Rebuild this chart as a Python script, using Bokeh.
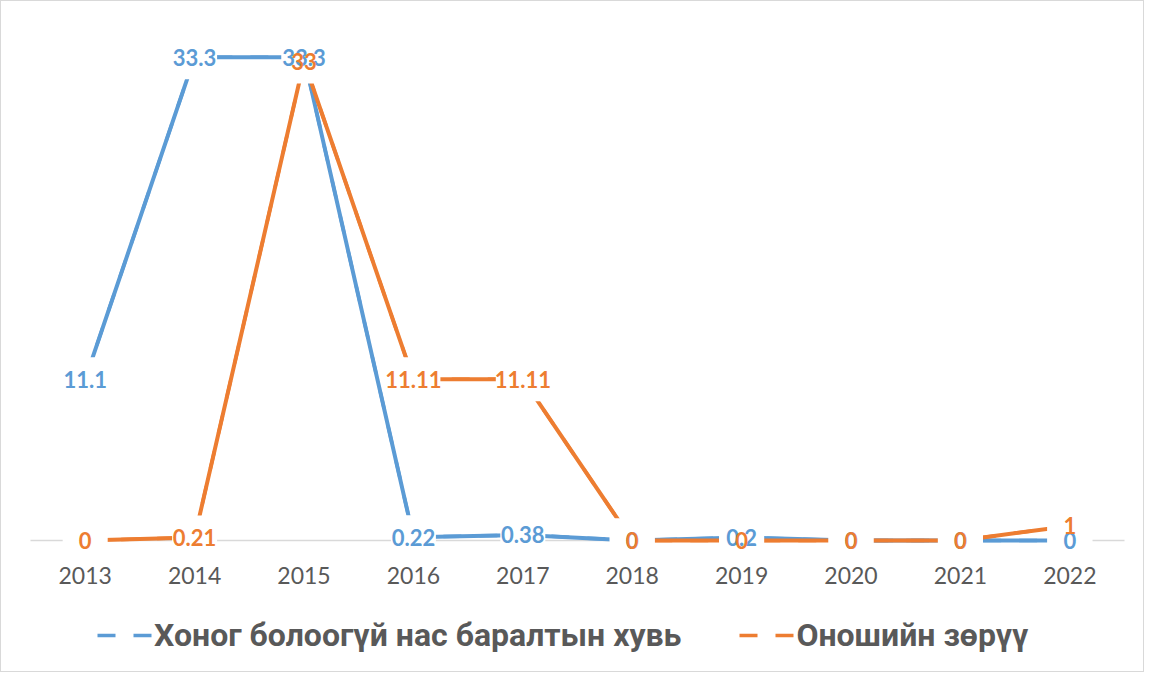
from bokeh.plotting import figure
from bokeh.models import (ColumnDataSource, Range1d, Legend, LegendItem, FixedTicker)
from bokeh.embed import file_html
from bokeh.resources import INLINE
from bokeh.core.properties import value

# ---- data ----
years = ["2013", "2014", "2015", "2016", "2017", "2018", "2019", "2020", "2021", "2022"]
mortality = [11.1, 33.3, 33.3, 0.22, 0.38, 0, 0.2, 0, 0, 0]
mismatch = [0, 0.21, 33, 11.11, 11.11, 0, 0, 0, 0, 1]
series_names = ["Хоног болоогүй нас баралтын хувь", "Оношийн зөрүү"]

BLUE = "#5B9BD5"
ORANGE = "#ED7D31"
GRAY_TEXT = "#595959"
AXIS_GRAY = "#d9d9d9"

xpos = list(range(len(years)))


def fmt(v):
    return f"{v:g}"


def box_w(s):
    return max(45, sum(11 if c.isdigit() else 6 for c in s) + 4)


p = figure(
    width=1144, height=672,
    x_range=Range1d(-0.765, 9.509),
    y_range=Range1d(-9.17, 35.0),
    output_backend="svg", toolbar_location=None,
    min_border_left=0, min_border_right=20, min_border_top=31, min_border_bottom=0,
    styles={"border": "1px solid #d9d9d9"},
)
p.outline_line_color = None
p.grid.visible = False
p.yaxis.visible = False

xa = p.xaxis[0]
xa.ticker = FixedTicker(ticks=xpos)
xa.major_label_overrides = {i: y for i, y in zip(xpos, years)}
xa.fixed_location = 0
xa.axis_line_color = None
xa.major_tick_line_color = None
xa.minor_tick_line_color = None
xa.major_label_text_font = "Lato"
xa.major_label_text_font_size = "23px"
xa.major_label_text_color = GRAY_TEXT
xa.major_label_standoff = 21

src_b = ColumnDataSource(dict(x=xpos, y=mortality, t=[fmt(v) for v in mortality],
                              w=[box_w(fmt(v)) for v in mortality]))
src_o = ColumnDataSource(dict(x=xpos, y=mismatch, t=[fmt(v) for v in mismatch],
                              w=[box_w(fmt(v)) for v in mismatch]))

# category-axis baseline, under the series lines
p.segment(x0=[xpos[0] - 0.5], x1=[xpos[-1] + 0.5], y0=[0], y1=[0],
          line_color=AXIS_GRAY, line_width=1.5)

# dashed copies (used for the legend markers), hidden under the solid lines
r1 = p.line("x", "y", source=src_b, line_color=BLUE, line_width=3.5, line_dash="18 18")
r2 = p.line("x", "y", source=src_o, line_color=ORANGE, line_width=3.5, line_dash="18 18")

p.line("x", "y", source=src_b, line_color=BLUE, line_width=4)
p.line("x", "y", source=src_o, line_color=ORANGE, line_width=4)

# white boxes behind data labels (mask lines)
for src in (src_b, src_o):
    p.rect("x", "y", width="w", height=44, width_units="screen", height_units="screen",
           source=src, fill_color="white", line_color=None)

for src, col in ((src_b, BLUE), (src_o, ORANGE)):
    p.text("x", "y", text="t", source=src, text_align="center", text_baseline="middle",
           text_font=value("Lato"), text_font_size="22px", text_font_style="bold",
           text_color=col)

legend = Legend(
    items=[LegendItem(label=series_names[0], renderers=[r1]),
           LegendItem(label=series_names[1], renderers=[r2])],
    orientation="horizontal", location=(96, 19),
    glyph_width=55, glyph_height=30, label_standoff=2, spacing=58,
    padding=0, margin=0, border_line_color=None, background_fill_alpha=0,
    label_text_font="Roboto", label_text_font_size="32px", label_text_font_style="bold",
    label_text_color=GRAY_TEXT,
)
p.add_layout(legend)

open("out.html", "w").write(file_html(p, INLINE))
